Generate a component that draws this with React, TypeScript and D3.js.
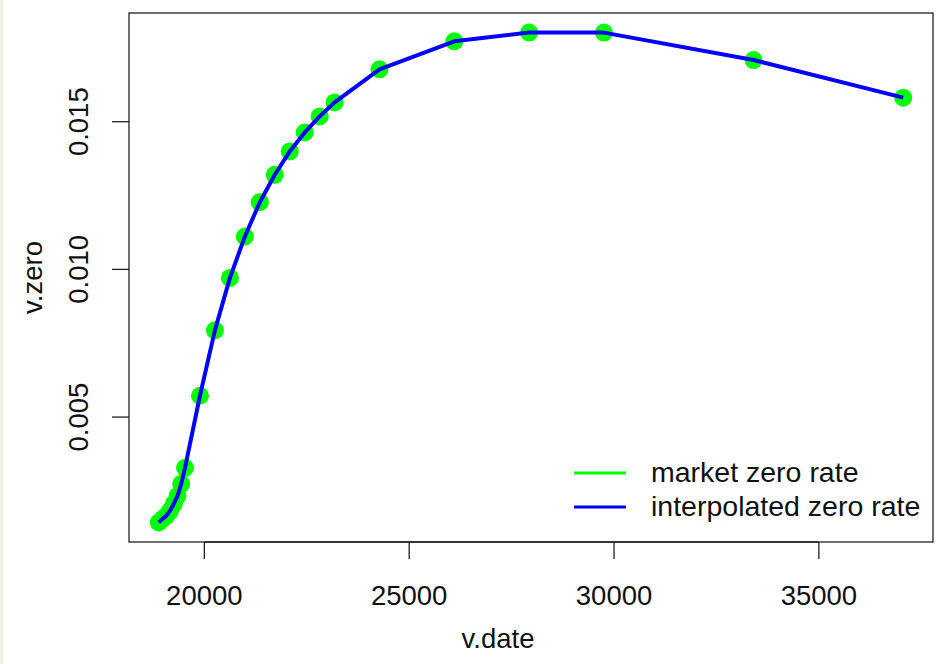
import React from "react";
import * as d3 from "d3";

// dates (days) and market zero rates
const vDate = [
  18888, 18979, 19071, 19162, 19254, 19345, 19436, 19528, 19893, 20258, 20624,
  20989, 21354, 21719, 22085, 22450, 22815, 23180, 24276, 26102, 27928, 29754,
  33406, 37059,
];
const vZero = [
  0.001434, 0.001553, 0.001654, 0.001824, 0.002061, 0.002332, 0.002739,
  0.003281, 0.005722, 0.007936, 0.009712, 0.011112, 0.012275, 0.013203,
  0.013993, 0.014637, 0.01518, 0.015654, 0.016773, 0.017722, 0.018017,
  0.018017, 0.017088, 0.015814,
];
const xTicks = [20000, 25000, 30000, 35000];
const yTicks = [0.005, 0.01, 0.015];
const legendLabels = ["market zero rate", "interpolated zero rate"];
const legendColors = ["#00ff00", "#0000ff"];

const W = 946;
const H = 664;
const left = 129;
const right = 933;
const top = 13;
const bottom = 542;
const font = "'Liberation Sans', Arial, sans-serif";
const fs = 27.5;

// R style axis: 4% padding each side
function padded(vals: number[]): [number, number] {
  const [a, b] = d3.extent(vals) as [number, number];
  const p = (b - a) * 0.04;
  return [a - p, b + p];
}

export default function App() {
  const x = d3.scaleLinear().domain(padded(vDate)).range([left, right]);
  const y = d3.scaleLinear().domain(padded(vZero)).range([bottom, top]);
  const pts = vDate.map((d, i) => [d, vZero[i]] as [number, number]);
  const line = d3
    .line<[number, number]>()
    .x((d) => x(d[0]))
    .y((d) => y(d[1]));

  return (
    <div style={{ position: "fixed", left: 0, top: 0, width: W, height: H, background: "#fff" }}>
      <svg width={W} height={H} style={{ display: "block" }} fontFamily={font}>
        <rect x={0} y={0} width={W} height={H} fill="#fff" />
        <rect x={0} y={0} width={3.5} height={H} fill="#f0efe5" />

        {/* market points */}
        {pts.map((d, i) => (
          <circle key={i} cx={x(d[0])} cy={y(d[1])} r={9} fill="#00ff00" />
        ))}
        {/* interpolated curve */}
        <path d={line(pts) || ""} fill="none" stroke="#0000ff" strokeWidth={4} strokeLinejoin="round" />

        <rect x={left} y={top} width={right - left} height={bottom - top} fill="none" stroke="#222" strokeWidth={1.3} />

        {/* x axis */}
        <line x1={x(xTicks[0])} x2={x(xTicks[xTicks.length - 1])} y1={bottom} y2={bottom} stroke="#222" strokeWidth={1.3} />
        {xTicks.map((t) => (
          <g key={t} transform={`translate(${x(t)},0)`}>
            <line y1={bottom} y2={bottom + 17} stroke="#222" strokeWidth={1.3} />
            <text y={605} textAnchor="middle" fontSize={fs} fill="#111">
              {d3.format("d")(t)}
            </text>
          </g>
        ))}
        <text x={498} y={648} textAnchor="middle" fontSize={fs} fill="#111">
          v.date
        </text>

        {/* y axis */}
        {yTicks.map((t) => (
          <g key={t}>
            <line x1={left - 17} x2={left} y1={y(t)} y2={y(t)} stroke="#222" strokeWidth={1.3} />
            <text transform={`translate(88,${y(t)}) rotate(-90)`} textAnchor="middle" fontSize={fs} fill="#111">
              {d3.format(".3f")(t)}
            </text>
          </g>
        ))}
        <text transform={`translate(42,${(top + bottom) / 2}) rotate(-90)`} textAnchor="middle" fontSize={fs} fill="#111">
          v.zero
        </text>

        {/* legend, no box */}
        {legendLabels.map((lab, i) => (
          <g key={lab} transform={`translate(0,${473 + i * 34})`}>
            <line x1={574} x2={626} y1={0} y2={0} stroke={legendColors[i]} strokeWidth={3} />
            <text x={651} y={9} fontSize={28.5} fill="#111">
              {lab}
            </text>
          </g>
        ))}
      </svg>
    </div>
  );
}
